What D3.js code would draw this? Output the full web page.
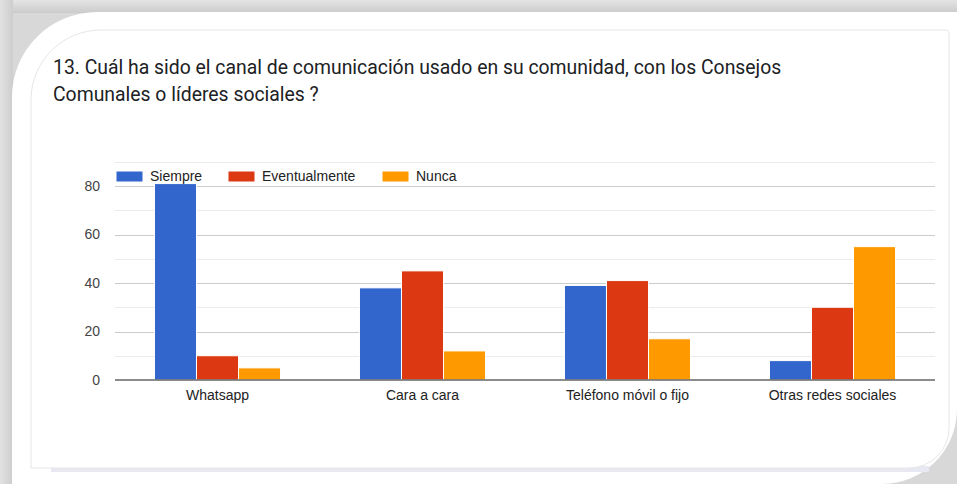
<!DOCTYPE html>
<html>
<head>
<meta charset="utf-8">
<script src="https://cdn.jsdelivr.net/npm/d3@7"></script>
<style>
  body { margin: 0; background: #d6d6d6; }
  svg { display: block; }
  text { font-family: "Liberation Sans", Arial, sans-serif; }
</style>
</head>
<body>
<svg id="chart" width="957" height="484"></svg>
<script>
// chart data
const categories = ['Whatsapp', 'Cara a cara', 'Teléfono móvil o fijo', 'Otras redes sociales'];
const seriesNames = ['Siempre', 'Eventualmente', 'Nunca'];
const siempre = [81, 38, 39, 8];
const eventualmente = [10, 45, 41, 30];
const nunca = [5, 12, 17, 55];
const majorTicks = [0, 20, 40, 60, 80];
const minorTicks = [10, 30, 50, 70, 90];
const titleLines = [
    '13. Cuál ha sido el canal de comunicación usado en su comunidad, con los Consejos',
    'Comunales o líderes sociales ?'
];

const colors = ['#3366cc', '#dc3912', '#ff9900'];
const values = [siempre, eventualmente, nunca];

const svg = d3.select('#chart');
const W = 957, H = 484;

// background frame
const defs = svg.append('defs');
const topGrad = defs.append('linearGradient').attr('id', 'topg').attr('x1', 0).attr('y1', 0).attr('x2', 0).attr('y2', 1);
topGrad.append('stop').attr('offset', '0%').attr('stop-color', '#e4e4e4');
topGrad.append('stop').attr('offset', '100%').attr('stop-color', '#cbcbcb');
const leftGrad = defs.append('linearGradient').attr('id', 'leftg').attr('x1', 0).attr('y1', 0).attr('x2', 1).attr('y2', 0);
leftGrad.append('stop').attr('offset', '0%').attr('stop-color', '#e2e2e2');
leftGrad.append('stop').attr('offset', '100%').attr('stop-color', '#cdcdcd');

svg.append('rect').attr('width', W).attr('height', H).attr('fill', '#d8d8d8');
svg.append('rect').attr('width', W).attr('height', 13).attr('fill', 'url(#topg)');
svg.append('rect').attr('y', 0).attr('width', 13).attr('height', H).attr('fill', 'url(#leftg)');

// white outer shape
const r1 = 85, r2 = 75;
svg.append('path')
    .attr('d', `M12,${12 + r1} A${r1},${r1} 0 0 1 ${12 + r1},12 H${W} V${H - r2} A${r2},${r2} 0 0 1 ${W - r2},${H} H12 Z`)
    .attr('fill', '#ffffff');

// inner card
const cx0 = 31, cy0 = 30, cx1 = 949, cy1 = 468, cr = 70, cr2 = 40;
svg.append('rect').attr('x', cx0 + 20).attr('y', cy1 - 2).attr('width', cx1 - cx0 - 40).attr('height', 6).attr('fill', '#e8e8f3');
svg.append('path')
    .attr('d', `M${cx0},${cy0 + cr} A${cr},${cr} 0 0 1 ${cx0 + cr},${cy0} H${cx1 - 3} Q${cx1},${cy0} ${cx1},${cy0 + 3} V${cy1 - cr2} A${cr2},${cr2} 0 0 1 ${cx1 - cr2},${cy1} H${cx0} Z`)
    .attr('fill', '#ffffff')
    .attr('stroke', '#e6e6e6')
    .attr('stroke-width', 1);

// title
const titleSize = 17;
const title = svg.append('g').attr('class', 'title');
titleLines.forEach((line, i) => {
    title.append('text')
        .attr('x', 53)
        .attr('y', 74 + i * 27)
        .style('font-family', 'Roboto, "Open Sans", sans-serif')
        .style('font-size', titleSize + 'px')
        .attr('fill', '#202124')
        .text(line);
});
// fit the first line to the width seen in the reference
const firstLine = title.select('text').node();
const fitScale = 729 / firstLine.getComputedTextLength();
title.selectAll('text').style('font-size', (titleSize * fitScale) + 'px');

// plot area
const margin = { left: 115, right: W - 935, top: 162, bottom: H - 380 };
const x = d3.scaleBand()
    .domain(categories)
    .range([margin.left, W - margin.right])
    .paddingInner(0.385)
    .paddingOuter(0.1925);
const xs = d3.scaleBand()
    .domain(seriesNames)
    .range([0, x.bandwidth()])
    .padding(0);
const y = d3.scaleLinear()
    .domain([0, 90])
    .range([380, 380 - 90 * 2.425]);

// gridlines
svg.append('g')
    .selectAll('line')
    .data(minorTicks)
    .join('line')
    .attr('x1', margin.left)
    .attr('x2', W - margin.right)
    .attr('y1', d => Math.round(y(d)) + 0.5)
    .attr('y2', d => Math.round(y(d)) + 0.5)
    .attr('stroke', '#ebebeb');

svg.append('g')
    .selectAll('line')
    .data(majorTicks.filter(d => d > 0))
    .join('line')
    .attr('x1', margin.left)
    .attr('x2', W - margin.right)
    .attr('y1', d => Math.round(y(d)) + 0.5)
    .attr('y2', d => Math.round(y(d)) + 0.5)
    .attr('stroke', '#cccccc');

// y labels
svg.append('g')
    .selectAll('text')
    .data(majorTicks)
    .join('text')
    .attr('x', 100)
    .attr('y', d => y(d))
    .attr('dy', '0.35em')
    .attr('text-anchor', 'end')
    .style('font-size', '14px')
    .attr('fill', '#444444')
    .text(d => d);

// bars
const groups = svg.append('g')
    .selectAll('g')
    .data(categories)
    .join('g')
    .attr('transform', d => `translate(${x(d)},0)`);

groups.selectAll('rect')
    .data((d, i) => seriesNames.map((s, j) => ({ series: s, value: values[j][i], color: colors[j] })))
    .join('rect')
    .attr('x', d => xs(d.series))
    .attr('width', xs.bandwidth())
    .attr('y', d => y(d.value))
    .attr('height', d => y(0) - y(d.value))
    .attr('fill', d => d.color)
    .attr('stroke', '#ffffff')
    .attr('stroke-width', 1);

// baseline
svg.append('line')
    .attr('x1', margin.left)
    .attr('x2', W - margin.right)
    .attr('y1', y(0))
    .attr('y2', y(0))
    .attr('stroke', '#666666')
    .attr('stroke-width', 1.5);

// x labels
svg.append('g')
    .selectAll('text')
    .data(categories)
    .join('text')
    .attr('x', d => x(d) + x.bandwidth() / 2)
    .attr('y', 400)
    .attr('text-anchor', 'middle')
    .style('font-size', '14px')
    .attr('fill', '#222222')
    .text(d => d);

// legend
const legendX = [116, 228, 382];
const legend = svg.append('g')
    .selectAll('g')
    .data(seriesNames)
    .join('g')
    .attr('transform', (d, i) => `translate(${legendX[i]},171)`);

legend.append('rect')
    .attr('width', 27)
    .attr('height', 11)
    .attr('fill', (d, i) => colors[i])
    .attr('stroke', '#ffffff')
    .attr('stroke-width', 1);

legend.append('text')
    .attr('x', 34)
    .attr('y', 5.5)
    .attr('dy', '0.35em')
    .style('font-size', '14px')
    .attr('fill', '#222222')
    .text(d => d);
</script>
</body>
</html>
